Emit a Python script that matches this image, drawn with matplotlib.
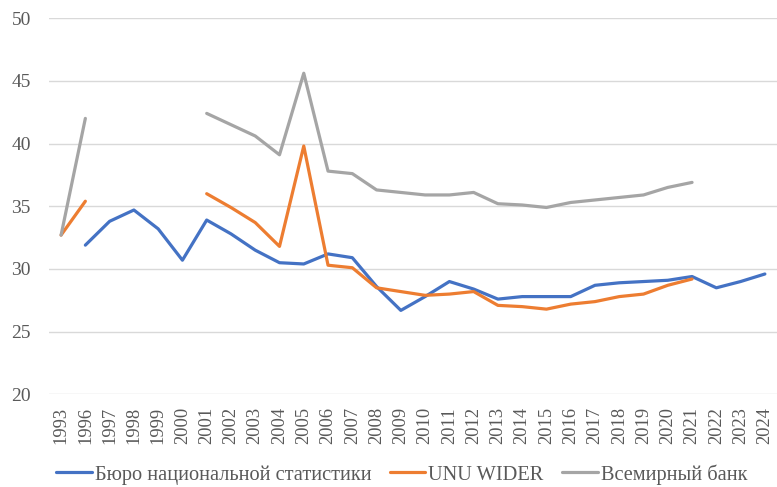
import numpy as np
import matplotlib
matplotlib.use("Agg")
import matplotlib.pyplot as plt

nan = np.nan
years = ["1993", "1996"] + [str(y) for y in range(1997, 2025)]

bureau = [nan, 31.9, 33.8, 34.7, 33.2, 30.7, 33.9, 32.8, 31.5, 30.5, 30.4, 31.2, 30.9, 28.6, 26.7,
          27.8, 29.0, 28.4, 27.6, 27.8, 27.8, 27.8, 28.7, 28.9, 29.0, 29.1, 29.4, 28.5, 29.0, 29.6]
wider = [32.7, 35.4, nan, nan, nan, nan, 36.0, 34.9, 33.7, 31.8, 39.8, 30.3, 30.1, 28.5, 28.2,
         27.9, 28.0, 28.2, 27.1, 27.0, 26.8, 27.2, 27.4, 27.8, 28.0, 28.7, 29.2, nan, nan, nan]
world_bank = [32.7, 42.0, nan, nan, nan, nan, 42.4, 41.5, 40.6, 39.1, 45.6, 37.8, 37.6, 36.3, 36.1,
              35.9, 35.9, 36.1, 35.2, 35.1, 34.9, 35.3, 35.5, 35.7, 35.9, 36.5, 36.9, nan, nan, nan]

series = [("Бюро национальной статистики", bureau, "#4472C4"),
          ("UNU WIDER", wider, "#ED7D31"),
          ("Всемирный банк", world_bank, "#A5A5A5")]

plt.rcParams["font.family"] = ["Liberation Serif", "DejaVu Serif"]

fig = plt.figure(figsize=(7.77, 4.87), dpi=100)
ax = fig.add_axes([0.063, 0.190, 0.937, 0.773])
x = np.arange(len(years))
for name, vals, col in series:
    ax.plot(x, vals, color=col, lw=2.3, label=name, solid_capstyle="round", solid_joinstyle="round")

ax.set_xlim(-0.5, len(years) - 0.5)
ax.set_ylim(20, 50)
ax.set_yticks(range(20, 51, 5))
ax.set_xticks(x)
ax.set_xticklabels(years, rotation=90)
ax.tick_params(axis="both", length=0, colors="#595959")
ax.tick_params(axis="y", pad=13, labelsize=14)
ax.tick_params(axis="x", pad=9, labelsize=13.3)
ax.grid(axis="y", color="#D9D9D9", lw=1)
ax.set_axisbelow(True)
for s in ax.spines.values():
    s.set_visible(False)

fig.legend(loc="center", bbox_to_anchor=(0.517, 0.026), ncol=3, frameon=False,
           fontsize=14.7, handlelength=1.75, handletextpad=0.15, columnspacing=0.9,
           labelcolor="#595959", borderpad=0)
fig.savefig("out.png", dpi=100)
